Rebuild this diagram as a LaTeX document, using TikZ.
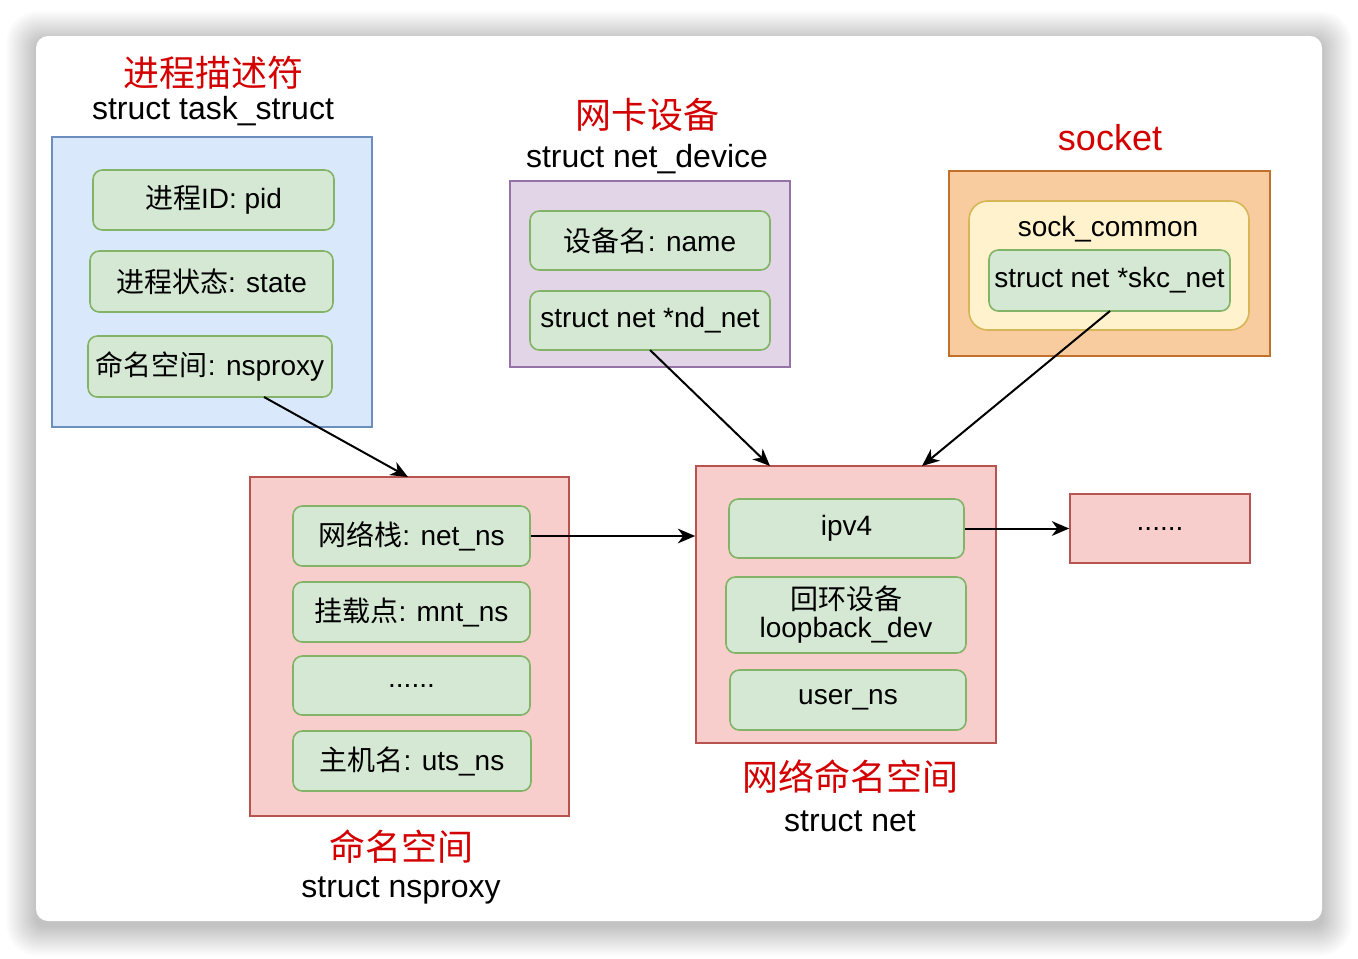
\documentclass[tikz,border=0pt]{standalone}
\usepackage{fontspec}
\setmainfont{Liberation Sans}
\newfontfamily\cjk{Noto Sans CJK SC}
\usetikzlibrary{arrows.meta}
\definecolor{bluefill}{HTML}{DAE8FC}\definecolor{bluedraw}{HTML}{6C8EBF}
\definecolor{greenfill}{HTML}{D5E8D4}\definecolor{greendraw}{HTML}{82B366}
\definecolor{purplefill}{HTML}{E1D5E7}\definecolor{purpledraw}{HTML}{9673A6}
\definecolor{pinkfill}{HTML}{F8CECC}\definecolor{pinkdraw}{HTML}{B85450}
\definecolor{orangefill}{HTML}{F8CC9E}\definecolor{orangedraw}{HTML}{C0702A}
\definecolor{yellowfill}{HTML}{FFF2CC}\definecolor{yellowdraw}{HTML}{D6B656}
\definecolor{titlered}{HTML}{D40000}
\tikzset{
  outer/.style={draw=#1draw, fill=#1fill, line width=1.2pt, inner sep=0pt},
  field/.style={draw=greendraw, fill=greenfill, line width=1.2pt, rounded corners=7pt, inner sep=0pt, align=center, font=\fontsize{21}{24}\selectfont},
  yel/.style={draw=yellowdraw, fill=yellowfill, line width=1.2pt, rounded corners=14pt, inner sep=0pt},
  redtitle/.style={text=titlered, font=\fontsize{27}{30}\selectfont, inner sep=0pt},
  blacktitle/.style={text=black, font=\fontsize{24}{27}\selectfont, inner sep=0pt},
  conn/.style={line width=1.5pt, -{Stealth[length=13pt,width=11pt,inset=4pt]}},
}
\newcommand\bx[7]{\node[#1, minimum width={(#4-#2)*0.75pt}, minimum height={(#5-#3)*0.75pt}] (#6) at ({(#2+#4)/2},{(#3+#5)/2}) {#7};}
\begin{document}
\begin{tikzpicture}[x=0.75pt,y=-0.75pt]
\fill[white] (0,0) rectangle (1358,958);
\useasboundingbox (0,0) rectangle (1358,958);
% card shadow
\foreach \i in {1,...,30}{
  \fill[black, opacity=0.0065, rounded corners={(9+\i*0.75)*0.75pt}] ({36-\i},{36-\i+5}) rectangle ({1322+\i},{921+\i+5});
}
\fill[white, rounded corners=9pt] (36,36) rectangle (1322,921);

% task_struct
\node[redtitle] (t1r) at (213,73) {\cjk 进程描述符};
\node[blacktitle] (t1b) at (213,111) {struct task\_struct};
\bx{outer=blue}{52}{137}{372}{427}{task}{}
\bx{field}{93}{170}{334}{230}{pid}{{\cjk 进程}ID: pid}
\bx{field}{90}{251}{333}{312}{state}{{\cjk 进程状态}: state}
\bx{field}{88}{336}{332}{397}{nsproxy}{{\cjk 命名空间}: nsproxy}

% net_device
\node[redtitle] (t2r) at (647,115) {\cjk 网卡设备};
\node[blacktitle] (t2b) at (647,159) {struct net\_device};
\bx{outer=purple}{510}{181}{790}{367}{netdev}{}
\bx{field}{530}{211}{770}{270}{name}{{\cjk 设备名}: name}
\bx{field}{530}{291}{770}{350}{ndnet}{struct net *nd\_net}

% socket
\node[redtitle] (t3r) at (1110,138) {socket};
\bx{outer=orange}{949}{171}{1270}{356}{socket}{}
\bx{yel}{969}{201}{1249}{330}{sockcommon}{}
\node[font=\fontsize{21}{24}\selectfont, inner sep=0pt] (sclabel) at (1108,229) {sock\_common};
\bx{field}{989}{250}{1230}{311}{skcnet}{struct net *skc\_net}

% nsproxy
\bx{outer=pink}{250}{477}{569}{816}{nsp}{}
\bx{field}{293}{506}{530}{566}{netns}{{\cjk 网络栈}: net\_ns}
\bx{field}{293}{582}{530}{642}{mntns}{{\cjk 挂载点}: mnt\_ns}
\bx{field}{293}{656}{530}{715}{dots1}{......}
\bx{field}{293}{731}{531}{791}{utsns}{{\cjk 主机名}: uts\_ns}
\node[redtitle] (t4r) at (401,847) {\cjk 命名空间};
\node[blacktitle] (t4b) at (401,890) {struct nsproxy};

% struct net
\bx{outer=pink}{696}{466}{996}{743}{net}{}
\bx{field}{729}{499}{964}{558}{ipv4}{ipv4}
\bx{field}{726}{577}{966}{653}{loop}{{\cjk 回环设备}\\[-3pt]loopback\_dev}
\bx{field}{730}{670}{966}{730}{userns}{user\_ns}
\node[redtitle] (t5r) at (850,777) {\cjk 网络命名空间};
\node[blacktitle] (t5b) at (850,821) {struct net};

% more
\bx{outer=pink}{1070}{494}{1250}{563}{more}{\fontsize{21}{24}\selectfont ......}

% connectors
\coordinate (a1s) at (264,397);
\coordinate (a1e) at (408,477);
\draw[conn] (a1s) -- (a1e);
\coordinate (a2s) at (650,350);
\coordinate (a2e) at (770,466);
\draw[conn] (a2s) -- (a2e);
\coordinate (a3s) at (1110,311);
\coordinate (a3e) at (922,466);
\draw[conn] (a3s) -- (a3e);
\draw[conn] (netns.east) -- (netns.east -| net.west);
\draw[conn] (ipv4.east) -- (ipv4.east -| more.west);
\end{tikzpicture}
\end{document}
